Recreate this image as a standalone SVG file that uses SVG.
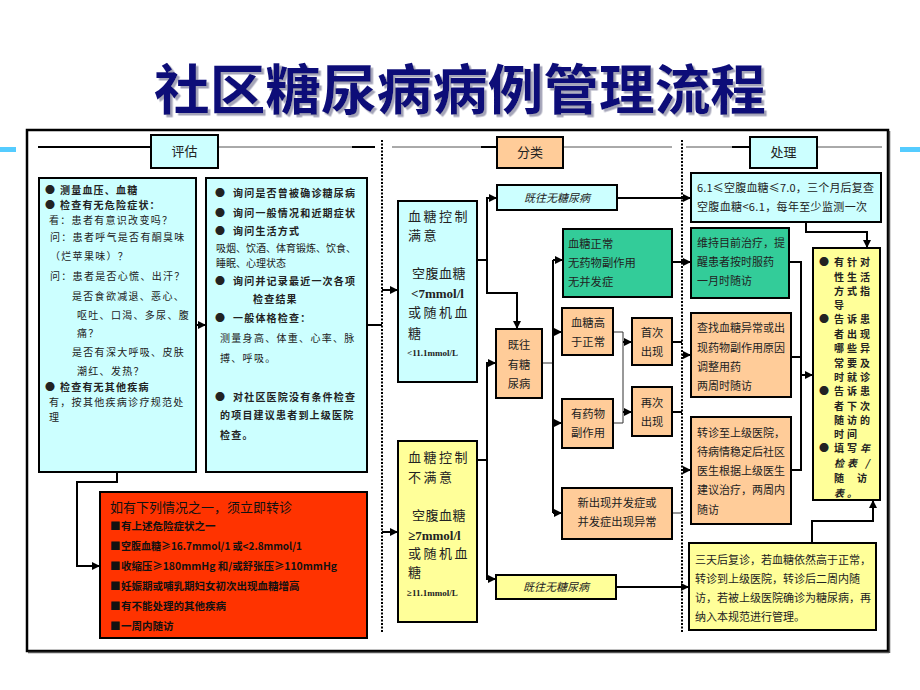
<svg xmlns="http://www.w3.org/2000/svg" width="920" height="690" viewBox="0 0 920 690">
<defs>
<marker id="ar" markerWidth="9" markerHeight="9" refX="8" refY="4" orient="auto" markerUnits="userSpaceOnUse">
<path d="M0,0 L8,4 L0,8 z" fill="#000"/>
</marker>
<filter id="sh" x="-5%" y="-20%" width="110%" height="140%">
<feDropShadow dx="2.5" dy="2.5" stdDeviation="0.6" flood-color="#9a9ab0" flood-opacity="0.9"/>
</filter>
<style>
.cy{fill:#ccffff;stroke:#000;stroke-width:2}
.or{fill:#ffcc99;stroke:#000;stroke-width:2}
.gr{fill:#33cc99;stroke:#000;stroke-width:2}
.ye{fill:#ffff99;stroke:#000;stroke-width:2}
.rd{fill:#ff3300;stroke:#000;stroke-width:2}
text{font-family:"Noto Sans CJK SC","Noto Sans",sans-serif;fill:#222}
.t{font-size:10px;letter-spacing:1.3px}
.b{font-size:10px;font-weight:bold;letter-spacing:1.2px}
.s{font-size:11px}
.m{font-size:11.3px}
.bg{font-size:13px;letter-spacing:2.5px}
.lat{font-family:"Liberation Serif",serif;font-weight:bold;font-size:13px}
.sm{font-family:"Liberation Serif",serif;font-weight:bold;font-size:9px}
.it{font-size:11px;font-style:italic}
.hd{font-size:13px}
.c{text-anchor:middle}
.ri{font-size:10.5px;font-weight:bold;fill:#111}
.ln{fill:none;stroke:#000;stroke-width:2}
.thin{fill:none;stroke:#333;stroke-width:1}
.dot{fill:none;stroke:#000;stroke-width:2;stroke-dasharray:2 1.5}
</style>
</defs>
<rect width="920" height="690" fill="#fff"/>
<text x="460" y="110" class="c" style="font-size:54px;font-weight:bold;fill:#0a0a78" textLength="612" lengthAdjust="spacingAndGlyphs" filter="url(#sh)">社区糖尿病病例管理流程</text>
<rect x="0" y="147" width="16" height="5" fill="#55ccff"/>
<rect x="900" y="147" width="20" height="5" fill="#55ccff"/>
<rect x="27" y="130" width="861" height="521" fill="#fff" stroke="#000" stroke-width="2.5"/>
<line x1="28" y1="652.5" x2="889" y2="652.5" stroke="#555" stroke-width="1.5"/>
<line x1="889.5" y1="131" x2="889.5" y2="653" stroke="#555" stroke-width="1.5"/>
<g id="headers">
<line x1="38" y1="147" x2="151" y2="147" stroke="#000" stroke-width="2"/>
<line x1="218" y1="147" x2="352" y2="147" stroke="#555" stroke-width="1"/>
<line x1="352" y1="147" x2="375" y2="147" stroke="#000" stroke-width="2"/>
<line x1="392" y1="147" x2="481" y2="147" stroke="#555" stroke-width="1"/>
<line x1="481" y1="147" x2="497" y2="147" stroke="#000" stroke-width="2"/>
<line x1="563" y1="147" x2="672" y2="147" stroke="#555" stroke-width="1"/>
<line x1="686" y1="147" x2="732" y2="147" stroke="#555" stroke-width="1"/>
<line x1="732" y1="147" x2="750" y2="147" stroke="#000" stroke-width="2"/>
<line x1="817" y1="147" x2="882" y2="147" stroke="#555" stroke-width="1"/>
<g id="h1"><rect x="151" y="135" width="67" height="33" class="cy"/><text x="184.5" y="156" class="hd c">评估</text></g>
<g id="h2"><rect x="497" y="137" width="66" height="31" class="or"/><text x="530" y="157" class="hd c">分类</text></g>
<g id="h3"><rect x="750" y="137" width="67" height="31" class="cy"/><text x="783.5" y="157" class="hd c">处理</text></g>
</g>
<g id="dividers">
<line x1="382" y1="140" x2="382" y2="632" class="dot"/>
<line x1="682" y1="140" x2="682" y2="632" class="dot"/>
</g>
<g id="connectors">
<line x1="196" y1="325" x2="206" y2="325" class="ln" marker-end="url(#ar)"/>
<line x1="367" y1="325" x2="382" y2="325" class="ln"/>
<line x1="382" y1="290" x2="398" y2="290" class="ln" marker-end="url(#ar)"/>
<line x1="382" y1="532" x2="398" y2="532" class="ln" marker-end="url(#ar)"/>
<path d="M117,472 V482 H77 V566 H100" class="ln" marker-end="url(#ar)"/>
<path d="M477,260 H487" class="ln"/>
<path d="M487,260 V198 H497" class="ln" marker-end="url(#ar)"/>
<path d="M487,260 V293 H517 V329" class="ln" marker-end="url(#ar)"/>
<path d="M477,460 H487" class="ln"/>
<path d="M487,460 V363 H496" class="ln" marker-end="url(#ar)"/>
<path d="M487,460 V579 H496" class="ln" marker-end="url(#ar)"/>
<path d="M542,363 H553" class="thin"/>
<path d="M553,260 V513" class="ln"/>
<path d="M553,260 H563" class="ln" marker-end="url(#ar)"/>
<path d="M553,332 H562" class="ln" marker-end="url(#ar)"/>
<path d="M553,423 H562" class="ln" marker-end="url(#ar)"/>
<path d="M553,513 H562" class="ln" marker-end="url(#ar)"/>
<path d="M613,332 H623 V423 H613" class="thin"/>
<path d="M623,342 H632" class="ln" marker-end="url(#ar)"/>
<path d="M623,412 H632" class="ln" marker-end="url(#ar)"/>
<path d="M617,198 H691" class="ln" marker-end="url(#ar)"/>
<path d="M672,262 H691" class="ln" marker-end="url(#ar)"/>
<path d="M672,342 H682" class="ln"/>
<path d="M682,355 H691" class="ln" marker-end="url(#ar)"/>
<path d="M672,412 H682" class="ln"/>
<path d="M682,470 H691" class="ln" marker-end="url(#ar)"/>
<path d="M672,513 H682" class="thin"/>
<path d="M616,587 H689" class="ln" marker-end="url(#ar)"/>
<path d="M806,222 V232 H867 V248" class="ln" marker-end="url(#ar)"/>
<path d="M789,262 H801 V470 H791" class="ln"/>
<path d="M791,357 H801" class="ln"/>
<path d="M801,375 H813" class="ln" marker-end="url(#ar)"/>
<path d="M812,543 V521 H873 V500" class="ln" marker-end="url(#ar)"/>
</g>
<g id="assess1">
<rect x="39" y="178" width="157" height="294" class="cy"/>
<text class="b" y="194"><tspan x="45">●</tspan><tspan x="60">测量血压、血糖</tspan></text>
<text class="b" y="209"><tspan x="45">●</tspan><tspan x="60">检查有无危险症状：</tspan></text>
<text class="t" x="49" y="224">看：患者有意识改变吗？</text>
<text class="t" x="50" y="241">问：患者呼气是否有酮臭味</text>
<text class="t" x="50" y="260">（烂苹果味）？</text>
<text class="t" x="50" y="280">问：患者是否心慌、出汗？</text>
<text class="t" x="72" y="300">是否食欲减退、恶心、</text>
<text class="t" x="77" y="319">呕吐、口渴、多尿、腹</text>
<text class="t" x="77" y="337">痛？</text>
<text class="t" x="72" y="356">是否有深大呼吸、皮肤</text>
<text class="t" x="77" y="375">潮红、发热？</text>
<text class="b" y="391"><tspan x="45">●</tspan><tspan x="60">检查有无其他疾病</tspan></text>
<text class="t" x="49" y="406">有，按其他疾病诊疗规范处</text>
<text class="t" x="49" y="421">理</text>
</g>
<g id="assess2">
<rect x="206" y="178" width="161" height="294" class="cy"/>
<text class="b" y="197"><tspan x="215">●</tspan><tspan x="233">询问是否曾被确诊糖尿病</tspan></text>
<text class="b" y="217"><tspan x="215">●</tspan><tspan x="233">询问一般情况和近期症状</tspan></text>
<text class="b" y="235"><tspan x="215">●</tspan><tspan x="233">询问生活方式</tspan></text>
<text class="t" x="216" y="252" style="letter-spacing:0">吸烟、饮酒、体育锻炼、饮食、</text>
<text class="t" x="216" y="267" style="letter-spacing:0">睡眠、心理状态</text>
<text class="b" y="285"><tspan x="215">●</tspan><tspan x="233">询问并记录最近一次各项</tspan></text>
<text class="b" x="253" y="303">检查结果</text>
<text class="b" y="322"><tspan x="215">●</tspan><tspan x="233">一般体格检查：</tspan></text>
<text class="t" x="220" y="342">测量身高、体重、心率、脉</text>
<text class="t" x="220" y="362">搏、呼吸。</text>
<text class="b" y="401"><tspan x="215">●</tspan><tspan x="233">对社区医院没有条件检查</tspan></text>
<text class="b" x="220" y="419">的项目建议患者到上级医院</text>
<text class="b" x="220" y="439">检查。</text>
</g>
<g id="referral">
<rect x="100" y="492" width="267" height="146" class="rd"/>
<text x="110" y="512" style="font-size:13px;fill:#111">如有下列情况之一，须立即转诊</text>
<text class="ri" y="530"><tspan x="110">■</tspan><tspan x="121">有上述危险症状之一</tspan></text>
<text class="ri" y="550"><tspan x="110">■</tspan><tspan x="121" textLength="181" lengthAdjust="spacingAndGlyphs">空腹血糖≥16.7mmol/1 或&lt;2.8mmol/1</tspan></text>
<text class="ri" y="570"><tspan x="110">■</tspan><tspan x="121" textLength="216" lengthAdjust="spacingAndGlyphs">收缩压≥180mmHg 和/或舒张压≥110mmHg</tspan></text>
<text class="ri" y="590"><tspan x="110">■</tspan><tspan x="121">妊娠期或哺乳期妇女初次出现血糖增高</tspan></text>
<text class="ri" y="610"><tspan x="110">■</tspan><tspan x="121">有不能处理的其他疾病</tspan></text>
<text class="ri" y="630"><tspan x="110">■</tspan><tspan x="121">一周内随访</tspan></text>
</g>
<g id="good">
<rect x="398" y="201" width="79" height="181" class="cy"/>
<text class="bg" x="408" y="221">血糖控制</text>
<text class="bg" x="408" y="240">满意</text>
<text class="bg" x="412" y="278" style="letter-spacing:0.5px">空腹血糖</text>
<text class="lat" x="411" y="298">&lt;7mmol/l</text>
<text class="bg" x="408" y="317">或随机血</text>
<text class="bg" x="408" y="338">糖</text>
<text class="sm" x="407" y="356">&lt;11.1mmol/L</text>
</g>
<g id="bad">
<rect x="398" y="441" width="79" height="181" class="ye"/>
<text class="bg" x="408" y="462">血糖控制</text>
<text class="bg" x="408" y="482">不满意</text>
<text class="bg" x="412" y="520" style="letter-spacing:0.5px">空腹血糖</text>
<text class="lat" x="408" y="540">≥7mmol/l</text>
<text class="bg" x="408" y="558">或随机血</text>
<text class="bg" x="408" y="577">糖</text>
<text class="sm" x="407" y="596">≥11.1mmol/L</text>
</g>
<g id="nodm1"><rect x="497" y="185" width="120" height="25" class="cy"/><text class="it c" x="557" y="202">既往无糖尿病</text></g>
<g id="nodm2"><rect x="496" y="575" width="120" height="24" class="ye"/><text class="it c" x="556" y="591">既往无糖尿病</text></g>
<g id="dm"><rect x="496" y="329" width="46" height="69" class="or"/>
<text class="m c" x="519" y="349">既往</text><text class="m c" x="519" y="369">有糖</text><text class="m c" x="519" y="388">尿病</text></g>
<g id="normal"><rect x="563" y="229" width="109" height="68" class="gr"/>
<text class="m" x="568" y="248">血糖正常</text><text class="m" x="568" y="267">无药物副作用</text><text class="m" x="568" y="286">无并发症</text></g>
<g id="high"><rect x="562" y="308" width="51" height="47" class="or"/>
<text class="m c" x="588" y="327">血糖高</text><text class="m c" x="588" y="346">于正常</text></g>
<g id="side"><rect x="562" y="399" width="51" height="49" class="or"/>
<text class="m c" x="588" y="418">有药物</text><text class="m c" x="588" y="437">副作用</text></g>
<g id="compl"><rect x="562" y="488" width="110" height="51" class="or"/>
<text class="m c" x="617" y="507">新出现并发症或</text><text class="m c" x="617" y="526">并发症出现异常</text></g>
<g id="first"><rect x="632" y="318" width="40" height="47" class="or"/>
<text class="m c" x="652" y="337">首次</text><text class="m c" x="652" y="356">出现</text></g>
<g id="again"><rect x="632" y="387" width="40" height="49" class="or"/>
<text class="m c" x="652" y="407">再次</text><text class="m c" x="652" y="426">出现</text></g>
<g id="r1"><rect x="691" y="173" width="190" height="49" class="cy"/>
<text class="s" x="697" y="192" textLength="177" lengthAdjust="spacing">6.1≤空腹血糖≤7.0，三个月后复查</text>
<text class="s" x="697" y="211" textLength="170" lengthAdjust="spacing">空腹血糖&lt;6.1，每年至少监测一次</text></g>
<g id="r2"><rect x="691" y="228" width="98" height="70" class="gr"/>
<text class="s" x="697" y="247">维持目前治疗，提</text><text class="s" x="697" y="266">醒患者按时服药</text><text class="s" x="697" y="285">一月时随访</text></g>
<g id="r3"><rect x="691" y="313" width="100" height="84" class="or"/>
<text class="s" x="697" y="332">查找血糖异常或出</text><text class="s" x="697" y="352">现药物副作用原因</text><text class="s" x="697" y="371">调整用药</text><text class="s" x="697" y="390">两周时随访</text></g>
<g id="r4"><rect x="691" y="417" width="100" height="107" class="or"/>
<text class="s" x="697" y="437">转诊至上级医院，</text><text class="s" x="697" y="456">待病情稳定后社区</text><text class="s" x="697" y="475">医生根据上级医生</text><text class="s" x="697" y="494">建议治疗，两周内</text><text class="s" x="697" y="514">随访</text></g>
<g id="r5"><rect x="689" y="543" width="187" height="87" class="ye"/>
<text class="s" x="695" y="564">三天后复诊，若血糖依然高于正常，</text><text class="s" x="695" y="583">转诊到上级医院，转诊后二周内随</text><text class="s" x="695" y="602">访，若被上级医院确诊为糖尿病，再</text><text class="s" x="695" y="621">纳入本规范进行管理。</text></g>
<g id="guide"><rect x="813" y="248" width="67" height="252" class="ye"/>
<g style="font-size:10px;font-weight:bold;letter-spacing:3px">
<text x="819" y="266">●</text><text x="834" y="266">有针对</text>
<text x="834" y="281">性生活</text>
<text x="834" y="295">方式指</text>
<text x="834" y="309">导</text>
<text x="819" y="323">●</text><text x="834" y="323">告诉患</text>
<text x="834" y="338">者出现</text>
<text x="834" y="352">哪些异</text>
<text x="834" y="367">常要及</text>
<text x="834" y="381">时就诊</text>
<text x="819" y="395">●</text><text x="834" y="395">告诉患</text>
<text x="834" y="410">者下次</text>
<text x="834" y="424">随访的</text>
<text x="834" y="438">时间</text>
<text x="819" y="452">●</text><text x="834" y="452">填写<tspan font-style="italic">年</tspan></text>
<text x="834" y="467" font-style="italic">检表 /</text>
<text x="834" y="482" textLength="36" lengthAdjust="spacing">随访</text>
<text x="834" y="497" font-style="italic">表。</text>
</g></g>
</svg>
